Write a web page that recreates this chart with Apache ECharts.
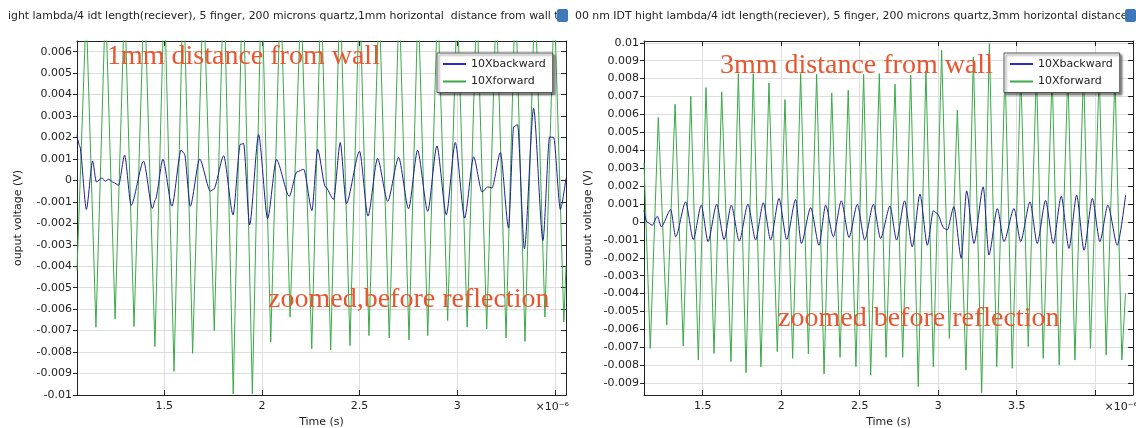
<!DOCTYPE html>
<html><head><meta charset="utf-8">
<script src="https://cdn.jsdelivr.net/npm/echarts@6/dist/echarts.min.js"></script>
<style>html,body{margin:0;padding:0;background:#fff}#c{width:1136px;height:428px}</style>
</head><body><div id="c"></div>
<script>
// time in microseconds, voltage in V
const leftBackward = [[1.053,0.0021],[1.067,0.0016],[1.101,-0.00135],[1.133,0.0009],[1.152,-0.00007],[1.181,0.00012],[1.198,-0.00004],[1.215,0.00006],[1.241,-0.0001],[1.266,-0.00022],[1.297,0.00118],[1.330,-0.00116],[1.394,0.0009],[1.439,-0.0013],[1.454,-0.0009],[1.493,0.00099],[1.539,-0.0012],[1.586,0.00141],[1.603,0.00125],[1.633,-0.0012],[1.681,0.001],[1.736,-0.0005],[1.753,-0.00041],[1.804,0.00115],[1.852,-0.0016],[1.889,0.00168],[1.906,0.00172],[1.937,-0.00207],[1.983,0.00214],[2.029,-0.00178],[2.074,0.00097],[2.140,-0.00074],[2.179,0.0004],[2.214,0.00052],[2.256,-0.0014],[2.285,0.00146],[2.325,-0.0003],[2.367,-0.00088],[2.401,0.00177],[2.432,-0.00108],[2.500,0.00136],[2.543,-0.00166],[2.592,0.00102],[2.644,-0.00097],[2.700,0.00107],[2.751,-0.00132],[2.797,0.00141],[2.849,-0.00144],[2.896,0.00161],[2.944,-0.0016],[2.990,0.00177],[3.038,-0.00175],[3.084,0.0011],[3.127,-0.00054],[3.156,-0.0003],[3.178,-0.00035],[3.221,0.0013],[3.263,-0.00222],[3.289,0.0025],[3.309,0.0026],[3.344,-0.00319],[3.391,0.00336],[3.439,-0.0028],[3.473,0.00203],[3.494,0.002],[3.528,-0.00135],[3.557,0.0001]];
const leftForward = [[1.053,-0.0042],[1.100,0.008],[1.150,-0.00684],[1.199,0.0085],[1.248,-0.00645],[1.297,0.0085],[1.345,-0.00681],[1.398,0.009],[1.452,-0.00774],[1.500,0.009],[1.550,-0.0089],[1.598,0.0095],[1.645,-0.00806],[1.700,0.009],[1.756,-0.007],[1.805,0.0095],[1.853,-0.00995],[1.902,0.01],[1.951,-0.00995],[1.998,0.0095],[2.045,-0.00754],[2.095,0.009],[2.144,-0.00637],[2.200,0.0085],[2.255,-0.00785],[2.303,0.009],[2.352,-0.0079],[2.400,0.009],[2.451,-0.0077],[2.500,0.009],[2.548,-0.00723],[2.600,0.0085],[2.652,-0.00734],[2.703,0.0085],[2.753,-0.00743],[2.800,0.0085],[2.849,-0.00723],[2.900,0.0085],[2.951,-0.00653],[3.000,0.0085],[3.051,-0.00684],[3.100,0.0085],[3.151,-0.00692],[3.200,0.0085],[3.250,-0.00734],[3.298,0.009],[3.347,-0.0075],[3.398,0.009],[3.449,-0.00637],[3.497,0.0085],[3.546,-0.0066],[3.557,-0.004]];
const rightBackward = [[1.126,0.00066],[1.143,0],[1.179,-0.00018],[1.211,0.00032],[1.236,-0.00027],[1.296,0.00069],[1.328,-0.00083],[1.391,0.00112],[1.440,-0.00098],[1.491,0.00094],[1.534,-0.0011],[1.589,0.00099],[1.636,-0.00098],[1.682,0.00094],[1.733,-0.00107],[1.788,0.00099],[1.837,-0.00101],[1.886,0.00107],[1.933,-0.00101],[1.986,0.00131],[2.035,-0.00098],[2.092,0.00125],[2.128,-0.0012],[2.188,0.0008],[2.241,-0.0013],[2.283,0.00094],[2.332,-0.00083],[2.383,0.00118],[2.432,-0.00087],[2.485,0.00099],[2.532,-0.00101],[2.587,0.00099],[2.633,-0.00092],[2.693,0.00088],[2.735,-0.00101],[2.786,0.00118],[2.835,-0.00139],[2.884,0.00155],[2.931,-0.0013],[2.969,0.00062],[2.994,0.00047],[3.037,-0.00036],[3.058,-0.00045],[3.100,0.00085],[3.147,-0.00203],[3.181,0.00174],[3.228,-0.0012],[3.287,0.00196],[3.323,-0.00185],[3.377,0.00075],[3.419,-0.0011],[3.483,0.00075],[3.525,-0.0011],[3.585,0.00112],[3.631,-0.0012],[3.684,0.0012],[3.733,-0.0012],[3.784,0.00144],[3.833,-0.00148],[3.882,0.00149],[3.929,-0.00158],[3.982,0.00131],[4.030,-0.0011],[4.081,0.00094],[4.141,-0.0013],[4.194,0.0015]];
const rightForward = [[1.126,0.0033],[1.166,-0.00706],[1.217,0.00583],[1.271,-0.00576],[1.324,0.00657],[1.376,-0.00693],[1.424,0.00702],[1.472,-0.00771],[1.521,0.0075],[1.572,-0.00734],[1.621,0.00726],[1.680,-0.0078],[1.727,0.00828],[1.776,-0.00842],[1.822,0.00828],[1.871,-0.00808],[1.922,0.00776],[1.975,-0.00724],[2.024,0.00683],[2.073,-0.00761],[2.124,0.00828],[2.173,-0.00737],[2.226,0.00824],[2.273,-0.00849],[2.322,0.0072],[2.375,-0.00756],[2.427,0.00735],[2.476,-0.00808],[2.525,0.00825],[2.570,-0.00854],[2.625,0.00828],[2.668,-0.00756],[2.725,0.00769],[2.774,-0.00756],[2.825,0.00819],[2.873,-0.0092],[2.922,0.00843],[2.969,-0.00808],[3.022,0.00958],[3.071,-0.0065],[3.122,0.00624],[3.177,-0.00827],[3.224,0.00921],[3.277,-0.00953],[3.326,0.00995],[3.373,-0.00808],[3.426,0.0086],[3.472,-0.00817],[3.526,0.0084],[3.574,-0.00696],[3.626,0.0085],[3.669,-0.00761],[3.726,0.0083],[3.771,-0.00799],[3.826,0.0084],[3.871,-0.00771],[3.926,0.0085],[3.970,-0.00706],[4.026,0.0084],[4.070,-0.00743],[4.126,0.0082],[4.170,-0.00771],[4.193,-0.004]];

const leftXTicks = [1.5, 2, 2.5, 3, 3.5];
const leftXLabels = [1.5, 2, 2.5, 3];
const rightXTicks = [1.5, 2, 2.5, 3, 3.5, 4];
const rightXLabels = [1.5, 2, 2.5, 3, 3.5];
const leftYTicks = [-0.01,-0.009,-0.008,-0.007,-0.006,-0.005,-0.004,-0.003,-0.002,-0.001,0,0.001,0.002,0.003,0.004,0.005,0.006];
const rightYTicks = [-0.009,-0.008,-0.007,-0.006,-0.005,-0.004,-0.003,-0.002,-0.001,0,0.001,0.002,0.003,0.004,0.005,0.006,0.007,0.008,0.009,0.01];
const seriesNames = ['10Xbackward', '10Xforward'];
const titleLeft = 'ight lambda/4 idt length(reciever), 5 finger, 200 microns quartz,1mm horizontal  distance from wall to';
const titleRight = '00 nm IDT hight lambda/4 idt length(reciever), 5 finger, 200 microns quartz,3mm horizontal distance';
const notes = ['1mm distance from wall', 'zoomed,before reflection', '3mm distance from wall', 'zoomed before reflection'];

const FONT = 'DejaVu Sans';
const BLUE = '#1e1e96', GREEN = '#3aaa48', RED = '#e8552e';
const fmt = v => String(parseFloat(Number(v).toFixed(4)));

function xAxes(grid, min, max, ticks, labels) {
  return [
    { type: 'value', gridIndex: grid, position: 'bottom', min, max,
      name: 'Time (s)', nameLocation: 'middle', nameGap: 19,
      nameTextStyle: { fontFamily: FONT, fontSize: 11, color: '#222' },
      axisLine: { onZero: false, lineStyle: { color: '#222', width: 1 } },
      axisTick: { inside: true, length: 5, customValues: ticks, lineStyle: { color: '#222' } },
      axisLabel: { customValues: labels, formatter: fmt, fontFamily: FONT, fontSize: 11, color: '#222', margin: 6 },
      splitLine: { show: true, lineStyle: { color: '#dedede', width: 1 } } },
    { type: 'value', gridIndex: grid, position: 'top', min, max,
      axisLine: { onZero: false, lineStyle: { color: '#222', width: 1 } },
      axisTick: { inside: true, length: 5, customValues: ticks, lineStyle: { color: '#222' } },
      axisLabel: { show: false }, splitLine: { show: false } }
  ];
}
function yAxes(grid, min, max, ticks, gap) {
  return [
    { type: 'value', gridIndex: grid, position: 'left', min, max,
      name: 'ouput voltage (V)', nameLocation: 'middle', nameGap: gap, nameRotate: 90,
      nameTextStyle: { fontFamily: FONT, fontSize: 11, color: '#222' },
      axisLine: { show: true, onZero: false, lineStyle: { color: '#222', width: 1 } },
      axisTick: { show: true, inside: false, length: 4, customValues: ticks, lineStyle: { color: '#222' } },
      axisLabel: { customValues: ticks, formatter: fmt, fontFamily: FONT, fontSize: 11, color: '#222', margin: 5 },
      splitLine: { show: true, lineStyle: { color: '#dedede', width: 1 } } },
    { type: 'value', gridIndex: grid, position: 'right', min, max,
      axisLine: { show: true, onZero: false, lineStyle: { color: '#222', width: 1 } },
      axisTick: { show: true, inside: true, length: 5, customValues: ticks, lineStyle: { color: '#222' } },
      axisLabel: { show: false }, splitLine: { show: false } }
  ];
}
function line(name, data, color, xi, yi, z, smooth) {
  return { name, type: 'line', data, xAxisIndex: xi, yAxisIndex: yi, symbol: 'none', showSymbol: false,
    clip: true, animation: false, z, smooth: smooth || false, smoothMonotone: 'x',
    lineStyle: { color, width: 1 }, itemStyle: { color } };
}
function legend(left) {
  return { left, top: 53, orient: 'vertical',
    data: [{ name: seriesNames[0], itemStyle: { color: '#2a2ad2' } }, { name: seriesNames[1], itemStyle: { color: GREEN } }],
    icon: 'rect', itemWidth: 23, itemHeight: 2, itemGap: 3.5, padding: [4, 7, 4, 6],
    backgroundColor: '#fff', borderColor: '#555', borderWidth: 1,
    shadowColor: 'rgba(0,0,0,0.45)', shadowBlur: 2, shadowOffsetX: 2, shadowOffsetY: 2,
    textStyle: { fontFamily: FONT, fontSize: 11, color: '#222', lineHeight: 14 }, selectedMode: false };
}
function note(text, x, y) {
  return { type: 'text', x, y, z: 100, silent: true,
    style: { text, fill: RED, font: '28px "Liberation Serif"', align: 'left', verticalAlign: 'middle' } };
}
function plainText(text, x, y, size, align) {
  return { type: 'text', x, y, z: 100, silent: true,
    style: { text, fill: '#222', font: size + 'px "DejaVu Sans"', align: align || 'left', verticalAlign: 'middle' } };
}

const chart = echarts.init(document.getElementById('c'), null, { renderer: 'canvas' });
chart.setOption({
  animation: false,
  backgroundColor: '#fff',
  grid: [
    { left: 77, top: 41, width: 489, height: 354, containLabel: false, outerBoundsMode: 'none' },
    { left: 644, top: 41, width: 489, height: 354, containLabel: false, outerBoundsMode: 'none' }
  ],
  xAxis: [...xAxes(0, 1.053, 3.557, leftXTicks, leftXLabels), ...xAxes(1, 1.126, 4.241, rightXTicks, rightXLabels)],
  yAxis: [...yAxes(0, -0.01, 0.0065, leftYTicks, 53), ...yAxes(1, -0.00966, 0.0101, rightYTicks, 50)],
  legend: [legend(437), legend(1004)],
  series: [
    line(seriesNames[1], leftForward, GREEN, 0, 0, 2),
    line(seriesNames[0], leftBackward, BLUE, 0, 0, 3, 0.25),
    line(seriesNames[1], rightForward, GREEN, 2, 2, 2),
    line(seriesNames[0], rightBackward, BLUE, 2, 2, 3, 0.25)
  ],
  graphic: [
    plainText(titleLeft, 8, 16, 10.9),
    plainText(titleRight, 575, 16, 10.9),
    { type: 'rect', shape: { x: 557, y: 9, width: 11, height: 13, r: 2 }, style: { fill: '#3f78b8' }, z: 101 },
    { type: 'rect', shape: { x: 1125, y: 9, width: 11, height: 13, r: 2 }, style: { fill: '#3f78b8' }, z: 101 },
    note(notes[0], 107, 57),
    note(notes[1], 268, 300),
    note(notes[2], 720, 66),
    note(notes[3], 778, 319),
    plainText('×10⁻⁶', 569, 407, 11, 'right'),
    plainText('×10⁻⁶', 1138, 407, 11, 'right')
  ]
});
</script></body></html>
